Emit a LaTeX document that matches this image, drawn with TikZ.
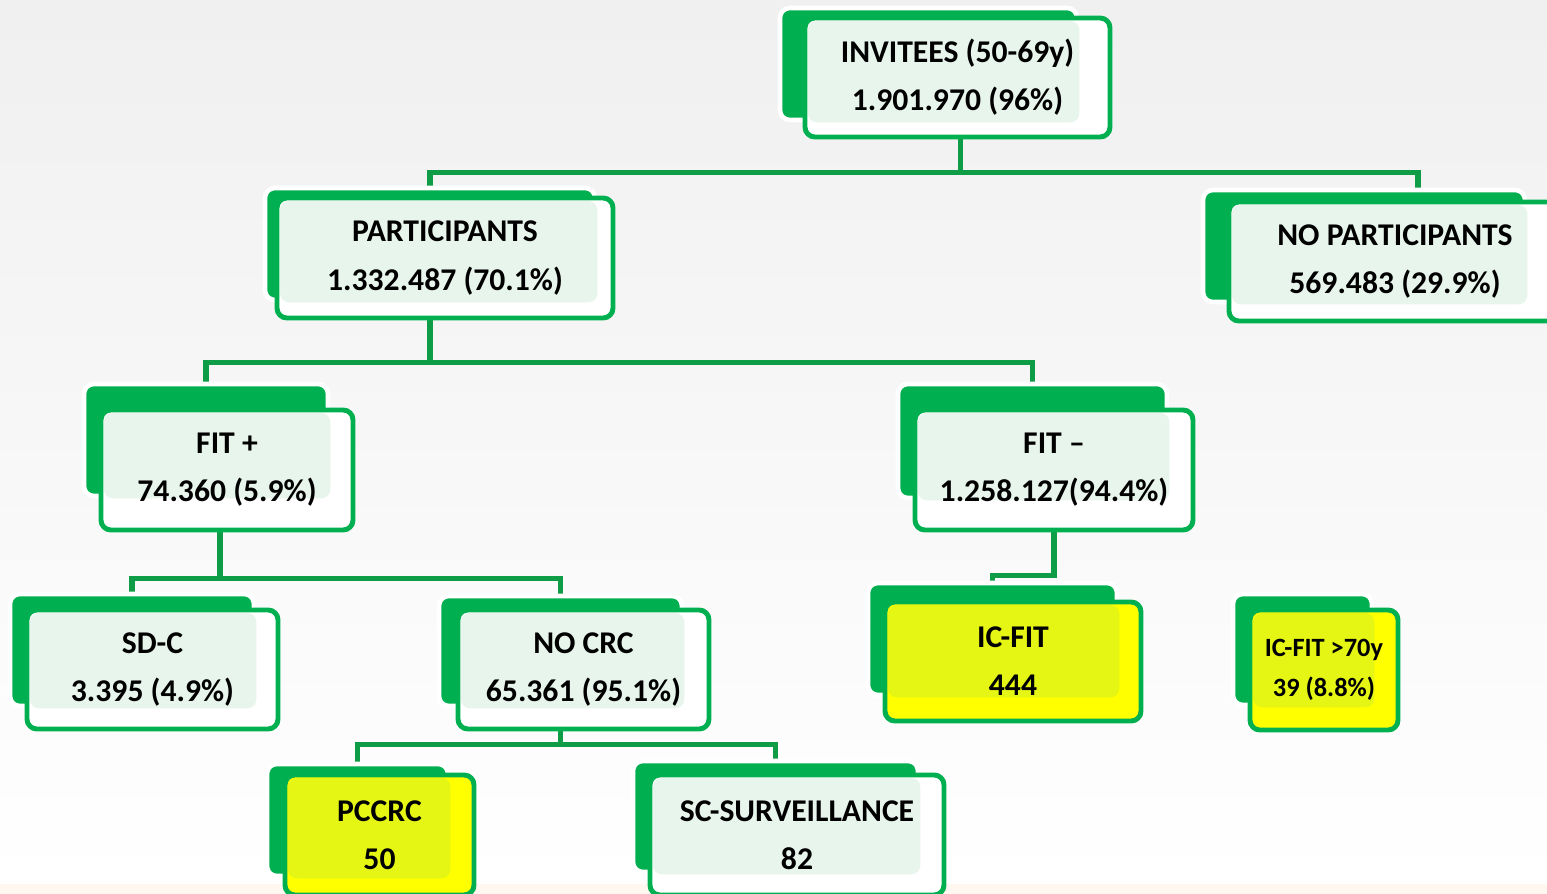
\documentclass[tikz,border=0pt]{standalone}
\usepackage{fontspec}
\setmainfont{Carlito}
\usetikzlibrary{fit,backgrounds,calc}
\definecolor{offgreen}{HTML}{00B050}
\definecolor{linegreen}{HTML}{0E9C46}
\definecolor{tintgreen}{HTML}{E8F5EC}
\definecolor{boxyellow}{HTML}{FFFF00}
\definecolor{tintyellow}{HTML}{E5F514}
\tikzset{
  back/.style={fill=offgreen, draw=white, line width=1.3pt, rounded corners=2.8pt, inner sep=0pt},
  front/.style={draw=offgreen, fill=white, line width=1.4pt, rounded corners=2.8pt, inner sep=0pt},
  yfront/.style={front, fill=boxyellow},
  tint/.style={path picture={\fill[tintgreen, rounded corners=2.5pt]
    ($(path picture bounding box.north west)+(3,3)$) rectangle (#1.south east);}},
  ytint/.style={path picture={\fill[tintyellow, rounded corners=2.5pt]
    ($(path picture bounding box.north west)+(3,3)$) rectangle (#1.south east);}},
  boxtext/.style={align=center, inner sep=0pt, font=\fontsize{9}{13.7}\selectfont\bfseries},
  link/.style={draw=linegreen, line width=1.5pt}
}
\begin{document}
\begin{tikzpicture}[x=0.01cm, y=-0.01cm]
\useasboundingbox (0,0) rectangle (1547,894);
\clip (0,0) rectangle (1547,894);

\node[back, fit={(780,8) (1077,120)}] (invitees-b) {};
\node[front, tint=invitees-b, fit={(805,18) (1110,137)}] (invitees) {};
\node[boxtext] (invitees-t) at (invitees) {INVITEES (50-69y)\\1.901.970 (96\%)};

\node[back, fit={(265,188) (595,300)}] (parts-b) {};
\node[front, tint=parts-b, fit={(277,198) (613,318)}] (parts) {};
\node[boxtext] (parts-t) at (parts) {PARTICIPANTS\\1.332.487 (70.1\%)};

\node[back, fit={(1203,190) (1525,302)}] (noparts-b) {};
\node[front, tint=noparts-b, fit={(1229,202) (1561,321)}] (noparts) {};
\node[boxtext] (noparts-t) at (noparts) {NO PARTICIPANTS\\569.483 (29.9\%)};

\node[back, fit={(84,384) (328,496)}] (fitpos-b) {};
\node[front, tint=fitpos-b, fit={(101,410) (353,530)}] (fitpos) {};
\node[boxtext] (fitpos-t) at (fitpos) {FIT +\\74.360 (5.9\%)};

\node[back, fit={(898,384) (1167,498)}] (fitneg-b) {};
\node[front, tint=fitneg-b, fit={(915,410) (1193,530)}] (fitneg) {};
\node[boxtext] (fitneg-t) at (fitneg) {FIT –\\1.258.127(94.4\%)};

\node[back, fit={(10,594) (254,706)}] (sdc-b) {};
\node[front, tint=sdc-b, fit={(27,610) (278,729)}] (sdc) {};
\node[boxtext] (sdc-t) at (sdc) {SD-C\\3.395 (4.9\%)};

\node[back, fit={(439,596) (682,706)}] (nocrc-b) {};
\node[front, tint=nocrc-b, fit={(458,610) (709,729)}] (nocrc) {};
\node[boxtext] (nocrc-t) at (nocrc) {NO CRC\\65.361 (95.1\%)};

\node[back, fit={(868,583) (1117,695)}] (icfit-b) {};
\node[yfront, ytint=icfit-b, fit={(885,602) (1141,721)}] (icfit) {};
\node[boxtext] (icfit-t) at (icfit) {IC-FIT\\444};

\node[back, fit={(1233,594) (1372,705)}] (icfit70-b) {};
\node[yfront, ytint=icfit70-b, fit={(1250,610) (1398,730)}] (icfit70) {};
\node[boxtext, font=\fontsize{7.5}{11.4}\selectfont\bfseries] (icfit70-t) at (icfit70) {IC-FIT >70y\\39 (8.8\%)};

\node[back, fit={(267,764) (448,876)}] (pccrc-b) {};
\node[yfront, ytint=pccrc-b, fit={(285,775) (474,895)}] (pccrc) {};
\node[boxtext] (pccrc-t) at (pccrc) {PCCRC\\50};

\node[back, fit={(633,761) (918,872)}] (scsurv-b) {};
\node[front, tint=scsurv-b, fit={(650,775) (944,895)}] (scsurv) {};
\node[boxtext] (scsurv-t) at (scsurv) {SC-SURVEILLANCE\\82};

\begin{scope}[on background layer]
\fill[top color=black!6, bottom color=white] (0,0) rectangle (1547,884);
\fill[orange!6] (0,884) rectangle (1547,894);
\draw[link] ($(invitees.south)+(3,0)$) -- ++(0,33) -| (parts-b.north);
\draw[link] ($(invitees.south)+(3,0)$) -- ++(0,33) -| ($(noparts-b.north)+(54,0)$);
\draw[link] (parts-b.south) -- ++(0,60) -| (fitpos-b.north);
\draw[link] (parts-b.south) -- ++(0,60) -| (fitneg-b.north);
\draw[link] ($(fitpos.south)+(-7,0)$) -- ++(0,46) -| (sdc-b.north);
\draw[link] ($(fitpos.south)+(-7,0)$) -- ++(0,46) -| (nocrc-b.north);
\draw[link] (fitneg.south) -- ++(0,43) -| (icfit-b.north);
\draw[link] (nocrc-b.south) -- ++(0,36) -| (pccrc-b.north);
\draw[link] (nocrc-b.south) -- ++(0,36) -| (scsurv-b.north);
\end{scope}
\end{tikzpicture}
\end{document}
